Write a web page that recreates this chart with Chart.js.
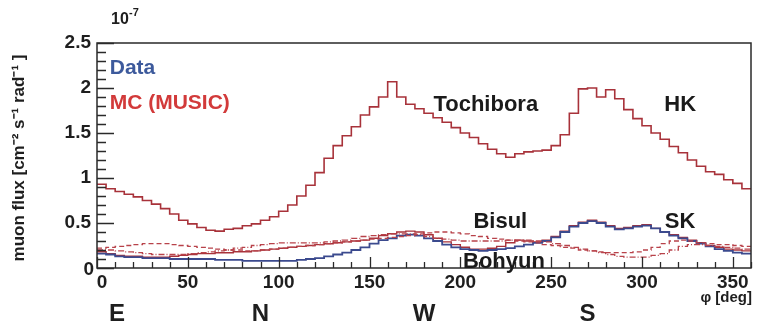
<!DOCTYPE html>
<html>
<head>
<meta charset="utf-8">
<script src="https://cdn.jsdelivr.net/npm/chart.js@4"></script>
<style>
  html, body { margin: 0; padding: 0; background: #fff; }
  #wrap { width: 769px; height: 326px; position: relative; }
</style>
</head>
<body>
<div id="wrap"><canvas id="fluxChart" width="769" height="326"></canvas></div>
<script>
// muon flux vs azimuth, ROOT-style histogram look
const phiBins = [0,5,10,15,20,25,30,35,40,45,50,55,60,65,70,75,80,85,90,95,100,105,110,115,
  120,125,130,135,140,145,150,155,160,165,170,175,180,185,190,195,200,205,210,215,220,225,230,235,
  240,245,250,255,260,265,270,275,280,285,290,295,300,305,310,315,320,325,330,335,340,345,350,355];
const phiMax = 360;

// HK (Tochibora) MC
const hkMC = [0.93,0.88,0.85,0.82,0.79,0.75,0.71,0.66,0.60,0.53,0.49,0.45,0.42,0.41,0.43,0.44,0.47,0.49,0.53,0.57,
  0.63,0.70,0.80,0.92,1.06,1.22,1.36,1.47,1.57,1.70,1.79,1.90,2.07,1.90,1.82,1.77,1.72,1.67,1.62,1.56,
  1.50,1.45,1.38,1.32,1.27,1.23,1.27,1.29,1.30,1.31,1.36,1.48,1.72,1.99,2.00,1.90,1.98,1.88,1.76,1.66,
  1.58,1.50,1.43,1.35,1.28,1.20,1.13,1.07,1.04,0.98,0.94,0.88];
// lower site, data
const lowData = [0.16,0.15,0.13,0.12,0.12,0.11,0.11,0.11,0.10,0.10,0.10,0.10,0.10,0.09,0.09,0.09,0.08,0.08,0.08,0.08,
  0.08,0.08,0.09,0.10,0.11,0.13,0.15,0.17,0.20,0.23,0.27,0.31,0.33,0.36,0.37,0.36,0.33,0.30,0.26,0.23,
  0.21,0.20,0.19,0.20,0.21,0.22,0.24,0.26,0.28,0.30,0.34,0.40,0.46,0.50,0.52,0.50,0.46,0.43,0.44,0.46,
  0.47,0.44,0.40,0.36,0.33,0.30,0.27,0.24,0.21,0.19,0.17,0.16];
// lower site, MC
const lowMC = [0.18,0.16,0.14,0.13,0.13,0.12,0.12,0.12,0.13,0.14,0.15,0.16,0.16,0.17,0.17,0.18,0.18,0.19,0.20,0.21,
  0.22,0.23,0.24,0.25,0.26,0.27,0.28,0.29,0.30,0.31,0.33,0.36,0.38,0.40,0.41,0.40,0.37,0.33,0.29,0.26,
  0.23,0.21,0.21,0.22,0.24,0.28,0.31,0.30,0.29,0.31,0.35,0.41,0.47,0.51,0.53,0.51,0.47,0.44,0.45,0.47,
  0.48,0.44,0.40,0.37,0.34,0.31,0.28,0.25,0.23,0.21,0.20,0.19];
// Bisul MC (dashed)
const bisulMC = [0.22,0.23,0.24,0.25,0.26,0.27,0.27,0.27,0.26,0.25,0.24,0.23,0.22,0.21,0.20,0.20,0.19,0.19,0.20,0.21,
  0.22,0.23,0.24,0.25,0.26,0.27,0.28,0.29,0.30,0.31,0.32,0.33,0.34,0.35,0.36,0.38,0.39,0.40,0.40,0.39,
  0.38,0.36,0.35,0.33,0.32,0.31,0.30,0.29,0.28,0.26,0.25,0.23,0.22,0.20,0.19,0.18,0.17,0.17,0.17,0.18,
  0.20,0.23,0.27,0.30,0.31,0.30,0.28,0.27,0.26,0.26,0.25,0.24];
// Bohyun MC (dash-dot)
const bohyunMC = [0.20,0.20,0.19,0.18,0.17,0.16,0.15,0.15,0.15,0.15,0.16,0.17,0.18,0.19,0.20,0.22,0.23,0.25,0.26,0.27,
  0.28,0.28,0.28,0.28,0.28,0.29,0.30,0.31,0.33,0.35,0.36,0.37,0.38,0.38,0.38,0.37,0.35,0.33,0.32,0.31,
  0.30,0.30,0.30,0.30,0.30,0.31,0.31,0.31,0.30,0.29,0.27,0.25,0.23,0.21,0.19,0.17,0.15,0.13,0.12,0.12,
  0.12,0.14,0.16,0.20,0.24,0.26,0.26,0.25,0.24,0.23,0.22,0.21];

const xTickLabels = [0, 50, 100, 150, 200, 250, 300, 350];
const yTickLabels = ['0', '0.5', '1', '1.5', '2', '2.5'];
const yTickValues = [0, 0.5, 1, 1.5, 2, 2.5];
const directions = [['E', 11], ['N', 90], ['W', 180], ['S', 270]];
const siteLabels = [
  ['Tochibora', 214, 1.81], ['HK', 321, 1.81],
  ['Bisul', 222, 0.51], ['SK', 321, 0.51], ['Bohyun', 224, 0.07],
];

const FONT = "'Liberation Sans', Arial, sans-serif";
const RED = '#a8323a';
const BLUE = '#3b4a8e';

function histo(vals) {
  const pts = phiBins.map((x, i) => ({ x, y: vals[i] }));
  pts.push({ x: phiMax, y: vals[vals.length - 1] });
  return pts;
}

const rootFrame = {
  id: 'rootFrame',
  afterDatasetsDraw(chart) {
    const { ctx, chartArea: a, scales: { x, y } } = chart;
    ctx.save();
    ctx.strokeStyle = '#2a2a2a';
    ctx.lineWidth = 1.5;
    ctx.strokeRect(a.left, a.top, a.right - a.left, a.bottom - a.top);

    // inward ticks
    ctx.lineWidth = 1.3;
    ctx.beginPath();
    for (let v = 0; v <= 360; v += 10) {
      const px = Math.round(x.getPixelForValue(v)) + 0.5;
      const len = v % 50 === 0 ? 11 : 6;
      ctx.moveTo(px, a.bottom); ctx.lineTo(px, a.bottom - len);
    }
    for (let k = 0; k <= 25; k++) {
      const py = Math.round(y.getPixelForValue(k / 10)) + 0.5;
      const len = k % 5 === 0 ? 17 : 9;
      ctx.moveTo(a.left, py); ctx.lineTo(a.left + len, py);
    }
    ctx.stroke();

    // tick labels
    ctx.fillStyle = '#1e1e1e';
    ctx.font = `bold 19px ${FONT}`;
    ctx.textAlign = 'center';
    ctx.textBaseline = 'middle';
    xTickLabels.forEach(v => ctx.fillText(String(v), x.getPixelForValue(v) + (v === 0 ? 5 : 0), a.bottom + 15));
    ctx.textAlign = 'right';
    yTickLabels.forEach((t, i) => ctx.fillText(t, a.left - (i === 0 ? 3 : 6), y.getPixelForValue(yTickValues[i]) + (i === 0 ? 2 : 0)));

    // exponent
    ctx.textAlign = 'left';
    ctx.font = `bold 16px ${FONT}`;
    ctx.fillText('10', 111, 20);
    ctx.font = `bold 11px ${FONT}`;
    ctx.fillText('-7', 129, 13);

    // axis titles
    ctx.font = `bold 15px ${FONT}`;
    ctx.textAlign = 'right';
    ctx.fillText('φ [deg]', a.right + 1, a.bottom + 30);
    ctx.save();
    ctx.translate(19, 158);
    ctx.rotate(-Math.PI / 2);
    ctx.textAlign = 'center';
    ctx.font = `bold 17px ${FONT}`;
    ctx.fillText('muon flux [cm⁻² s⁻¹ rad⁻¹ ]', 0, 0);
    ctx.restore();

    // compass letters
    ctx.textAlign = 'center';
    ctx.font = `bold 24px ${FONT}`;
    directions.forEach(([t, v]) => ctx.fillText(t, x.getPixelForValue(v), a.bottom + 46));

    // legend text
    ctx.textAlign = 'left';
    ctx.font = `bold 21px ${FONT}`;
    ctx.fillStyle = '#3d5a9c';
    ctx.fillText('Data', x.getPixelForValue(7), y.getPixelForValue(2.22));
    ctx.fillStyle = '#d23a3a';
    ctx.fillText('MC (MUSIC)', x.getPixelForValue(7), y.getPixelForValue(1.83));

    // site names
    ctx.fillStyle = '#1a1a1a';
    ctx.textAlign = 'center';
    ctx.font = `bold 22px ${FONT}`;
    siteLabels.forEach(([t, v, f]) => ctx.fillText(t, x.getPixelForValue(v), y.getPixelForValue(f)));
    ctx.restore();
  },
};

const common = { stepped: true, pointRadius: 0, fill: false, tension: 0 };

new Chart(document.getElementById('fluxChart'), {
  type: 'line',
  data: {
    datasets: [
      { ...common, label: 'Bisul MC', data: histo(bisulMC), borderColor: '#b8424a', borderWidth: 1.3, borderDash: [5, 3] },
      { ...common, label: 'Bohyun MC', data: histo(bohyunMC), borderColor: '#b8424a', borderWidth: 1.3, borderDash: [6, 2, 1, 2] },
      { ...common, label: 'Data', data: histo(lowData), borderColor: BLUE, borderWidth: 1.8 },
      { ...common, label: 'MC', data: histo(lowMC), borderColor: RED, borderWidth: 1.4 },
      { ...common, label: 'HK MC', data: histo(hkMC), borderColor: RED, borderWidth: 1.6 },
    ],
  },
  options: {
    responsive: false,
    animation: false,
    devicePixelRatio: 1,
    layout: { padding: { left: 97, top: 43, right: 18, bottom: 58 } },
    scales: {
      x: { type: 'linear', min: 0, max: phiMax, display: false },
      y: { type: 'linear', min: 0, max: 2.5, display: false },
    },
    plugins: { legend: { display: false }, tooltip: { enabled: false } },
  },
  plugins: [rootFrame],
});
</script>
</body>
</html>
